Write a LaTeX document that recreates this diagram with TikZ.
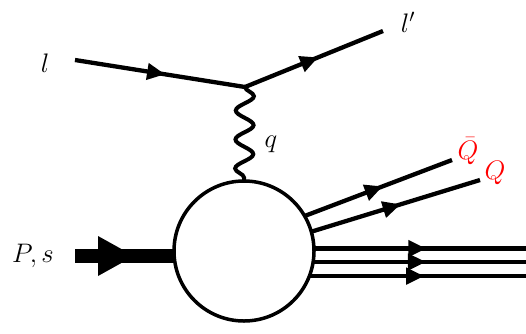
\documentclass[tikz,border=0pt]{standalone}
\usepackage{amsmath}
\usetikzlibrary{arrows.meta,decorations.markings,decorations.pathmorphing}

\newcommand{\biglab}[1]{\scalebox{1.55}{\LARGE #1}}

\tikzset{
  fermion/.style={line width=4.3pt,postaction={decorate},
    decoration={markings,mark=at position 0.53 with {\arrow{Triangle[length=18pt,width=16pt]}}}},
  photon/.style={line width=4pt,decorate,decoration={snake,segment length=29pt,amplitude=9pt}},
  lbl/.style={inner sep=0pt},
}

\begin{document}
\begin{tikzpicture}[x=1pt,y=-1pt]
\useasboundingbox (0,0) rectangle (526,333);

\node [circle,draw,line width=3.5pt,minimum size=140pt,inner sep=0pt,outer sep=0pt] (blob) at (244,251) {};
\coordinate (lin) at (75,60);
\coordinate (vtx) at (245,87);
\coordinate (lout) at (383,31);

\draw [fermion] (lin) -- (vtx) ;
\draw [fermion] (vtx) -- (lout) ;
\draw [photon] (vtx) -- (blob.north) ;

\coordinate (qbend) at (452,160);
\coordinate (qend) at (480,180);
\draw [fermion] (blob.30) -- (qbend) ;
\draw [fermion] (blob.16) -- (qend) ;
\draw [fermion] (blob.2.5) -- (blob.2.5 -| 526,0) ;
\draw [fermion] (blob.-9) -- (blob.-9 -| 526,0) ;
\draw [fermion] (blob.-21) -- (blob.-21 -| 526,0) ;

% incoming proton
\coordinate (pin) at (75,256);
\fill (pin) ++(0,-7) rectangle (blob.west |- 0,263) ;
\fill (98,236) -- (134,256) -- (98,276) -- cycle ;

\node [lbl] (l) at (45,63) {\biglab{$l$}};
\node [lbl] (lp) at (408,22) {\biglab{$l'$}};
\node [lbl] (q) at (271,144) {\biglab{$q$}};
\node [lbl] (P) at (33,256) {\biglab{$P,s$}};
\node [lbl,text=red] (Qb) at (468,151) {\biglab{$\bar{Q}$}};
\node [lbl,text=red] (Q) at (495,173) {\biglab{$Q$}};
\end{tikzpicture}
\end{document}
